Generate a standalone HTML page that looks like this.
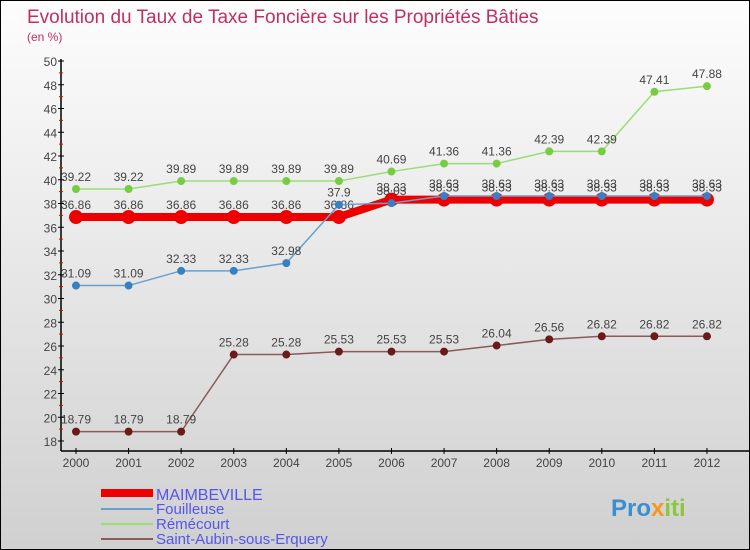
<!DOCTYPE html>
<html><head><meta charset="utf-8"><style>
body{margin:0}
#c{width:748px;height:548px;border:1px solid #000;background:linear-gradient(#fdfdfd,#d0d0d0);position:relative;font-family:"Liberation Sans",sans-serif;overflow:hidden}
</style></head><body>
<div id="c">
<svg id="s" width="748" height="548" xmlns="http://www.w3.org/2000/svg">
<text x="26" y="22" font-size="19" fill="#c0305e">Evolution du Taux de Taxe Foncière sur les Propriétés Bâties</text>
<text x="26" y="40" font-size="12" fill="#c0305e">(en %)</text>
<g id="axes"></g><g id="series"></g>
<g>
<rect x="100" y="488" width="52" height="8" fill="#e00"/>
<text x="155" y="499" font-size="16" fill="#5555ee">MAIMBEVILLE</text>
<line x1="100" y1="508" x2="152" y2="508" stroke="#6a9fcc" stroke-width="2"/>
<text x="155" y="513" font-size="15" fill="#5555ee">Fouilleuse</text>
<line x1="100" y1="523" x2="152" y2="523" stroke="#99dd77" stroke-width="2"/>
<text x="155" y="528" font-size="15" fill="#5555ee">Rémécourt</text>
<line x1="100" y1="538" x2="152" y2="538" stroke="#8b5a5a" stroke-width="2"/>
<text x="155" y="543" font-size="15" fill="#5555ee">Saint-Aubin-sous-Erquery</text>
</g>
<text x="610" y="515" font-size="24" font-weight="bold" fill="#3a8fd0">Pro<tspan fill="#f29a1a">x</tspan><tspan fill="#8cc63f">iti</tspan></text>
</svg>
</div>
<script>
const years=[2000,2001,2002,2003,2004,2005,2006,2007,2008,2009,2010,2011,2012];
const yTicks=[18,20,22,24,26,28,30,32,34,36,38,40,42,44,46,48,50];
const maimbeville=[36.86,36.86,36.86,36.86,36.86,36.86,38.33,38.33,38.33,38.33,38.33,38.33,38.33];
const fouilleuse=[31.09,31.09,32.33,32.33,32.98,37.9,38.03,38.63,38.63,38.63,38.63,38.63,38.63];
const remecourt=[39.22,39.22,39.89,39.89,39.89,39.89,40.69,41.36,41.36,42.39,42.39,47.41,47.88];
const saintAubin=[18.79,18.79,18.79,25.28,25.28,25.53,25.53,25.53,26.04,26.56,26.82,26.82,26.82];
const NS="http://www.w3.org/2000/svg";
const X=i=>75+i*52.58, Y=v=>440-(v-18)*11.875;
function el(t,a,p){const e=document.createElementNS(NS,t);for(const k in a)e.setAttribute(k,a[k]);p.appendChild(e);return e;}
const ax=document.getElementById('axes'), sr=document.getElementById('series');
let l=el('line',{x1:60,y1:58,x2:60,y2:450,stroke:'#000','stroke-width':1.5},ax);

l=el('line',{x1:60,y1:450,x2:748,y2:450,stroke:'#000','stroke-width':1.5},ax);

yTicks.forEach(v=>{el('line',{x1:57,y1:Y(v),x2:63,y2:Y(v),stroke:'#000'},ax);
if(v<50)el('line',{x1:58,y1:Y(v+1),x2:62,y2:Y(v+1),stroke:'#e00'},ax);
const t=el('text',{x:56,y:Y(v)+5,'font-size':12,fill:'#444','text-anchor':'end'},ax);t.textContent=v;
});
years.forEach((y,i)=>{el('line',{x1:X(i),y1:447,x2:X(i),y2:453,stroke:'#000'},ax);
const t=el('text',{x:X(i),y:466,'font-size':12,fill:'#444','text-anchor':'middle'},ax);t.textContent=y;
});
function draw(d,name,col,w,r,dot){
const g=el('g',{},sr);
el('polyline',{points:d.map((v,i)=>X(i)+','+Y(v)).join(' '),fill:'none',stroke:col,'stroke-width':w},g);
d.forEach((v,i)=>{const c=el('circle',{cx:X(i),cy:Y(v),r:r,fill:dot},g);

const t=el('text',{x:X(i),y:Y(v)-8,'font-size':12,fill:'#444','text-anchor':'middle'},g);t.textContent=v;});}
draw(saintAubin,'saint-aubin','#8b5a5a',1.5,4,'#6b1a1a');
draw(remecourt,'remecourt','#99dd77',1.5,4,'#77cc44');
draw(maimbeville,'maimbeville','#e00',8,7,'#e00');
draw(fouilleuse,'fouilleuse','#6a9fcc',1.5,4,'#3a7fc0');
</script>
</body></html>
